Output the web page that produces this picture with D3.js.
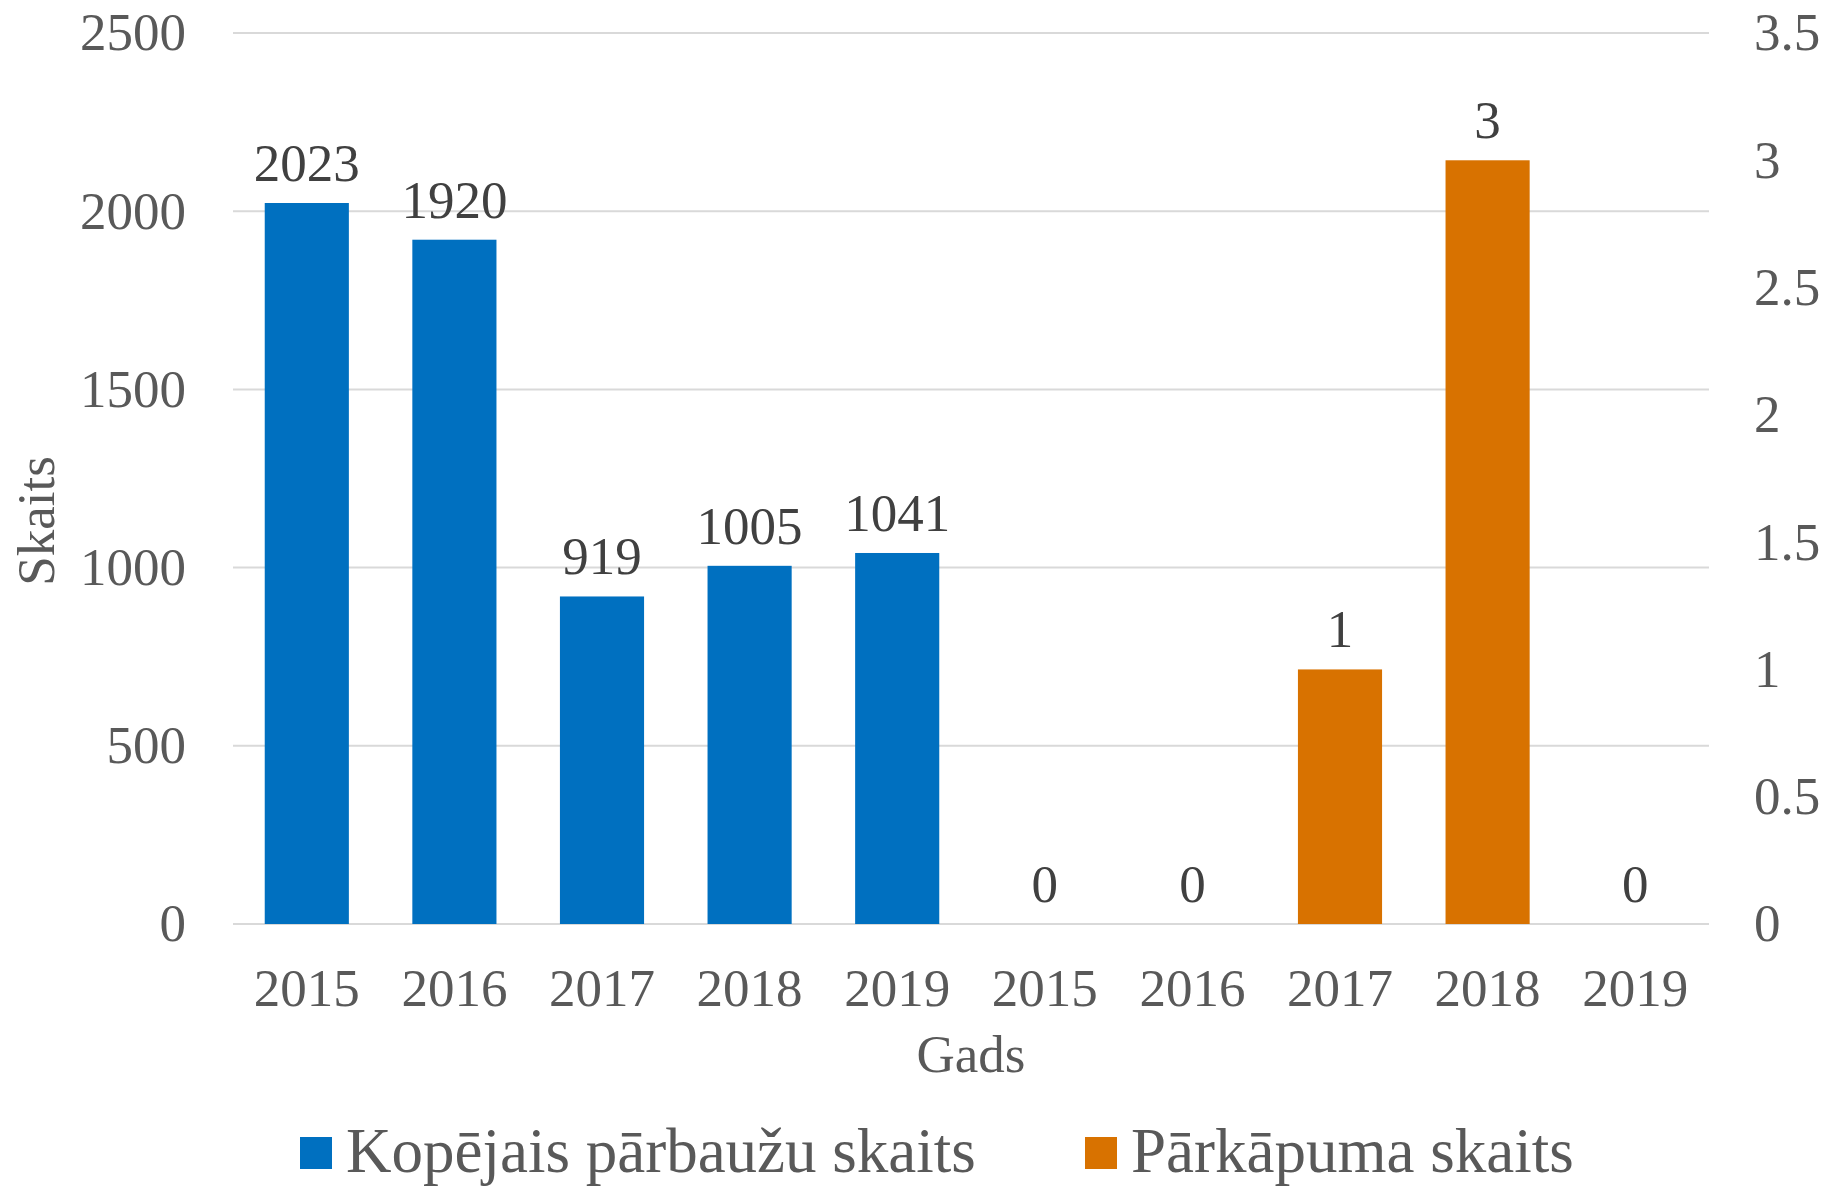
<!DOCTYPE html>
<html>
<head>
<meta charset="utf-8">
<script src="https://cdn.jsdelivr.net/npm/d3@7"></script>
<style>
  html, body { margin: 0; padding: 0; background: #fff; }
  svg { display: block; font-family: "Liberation Serif", "Times New Roman", serif; }
</style>
</head>
<body>
<div id="chart"></div>
<script>
// categories on the x axis (two groups of years)
const years = ["2015", "2016", "2017", "2018", "2019", "2015", "2016", "2017", "2018", "2019"];
// total inspections (primary axis), only first group
const inspections = [2023, 1920, 919, 1005, 1041, null, null, null, null, null];
// violations (secondary axis), only second group
const violations = [null, null, null, null, null, 0, 0, 1, 3, 0];
const leftTicks = [0, 500, 1000, 1500, 2000, 2500];
const rightTicks = [0, 0.5, 1, 1.5, 2, 2.5, 3, 3.5];
const seriesNames = ["Kopējais pārbaužu skaits", "Pārkāpuma skaits"];
const colors = ["#0070C0", "#D87200"];

function drawChart(id) {
  const W = 1823, H = 1188;
  const plot = { left: 233, right: 1709, top: 33, bottom: 924 };

  const svg = d3.select(`#${id}`)
    .append("svg")
    .attr("width", W)
    .attr("height", H)
    .attr("viewBox", [0, 0, W, H]);

  const x = d3.scaleBand()
    .domain(d3.range(years.length))
    .range([plot.left, plot.right])
    .paddingInner(0.43)
    .paddingOuter(0.215);

  const yLeft = d3.scaleLinear().domain([0, 2500]).range([plot.bottom, plot.top]);
  const yRight = d3.scaleLinear().domain([0, 3.5]).range([plot.bottom, plot.top]);

  // gridlines
  svg.append("g")
    .selectAll("line")
    .data(leftTicks)
    .join("line")
    .attr("x1", plot.left)
    .attr("x2", plot.right)
    .attr("y1", (d) => yLeft(d))
    .attr("y2", (d) => yLeft(d))
    .attr("stroke", "#D9D9D9")
    .attr("stroke-width", 2);

  // left axis labels
  const axisL = svg.append("g")
    .attr("transform", `translate(${plot.left - 47},0)`)
    .call(d3.axisLeft(yLeft).tickValues(leftTicks).tickFormat((d) => String(d)).tickSize(0).tickPadding(0));
  axisL.select(".domain").remove();
  axisL.selectAll("text")
    .attr("font-size", 53)
    .attr("font-family", "Liberation Serif, serif")
    .attr("fill", "#595959");

  // right axis labels
  const axisR = svg.append("g")
    .attr("transform", `translate(${plot.right + 45},0)`)
    .call(d3.axisRight(yRight).tickValues(rightTicks).tickFormat((d) => String(d)).tickSize(0).tickPadding(0));
  axisR.select(".domain").remove();
  axisR.selectAll("text")
    .attr("font-size", 53)
    .attr("font-family", "Liberation Serif, serif")
    .attr("fill", "#595959");

  // x axis labels
  const axisX = svg.append("g")
    .attr("transform", `translate(0,${plot.bottom})`)
    .call(d3.axisBottom(x).tickFormat((i) => years[i]).tickSize(0).tickPadding(0));
  axisX.select(".domain").remove();
  axisX.selectAll("text")
    .attr("dy", null)
    .attr("y", 82)
    .attr("font-size", 53)
    .attr("font-family", "Liberation Serif, serif")
    .attr("fill", "#595959");

  // bars + labels for each series
  const series = [
    { values: inspections, y: yLeft, color: colors[0] },
    { values: violations, y: yRight, color: colors[1] },
  ];
  series.forEach((s) => {
    const pts = s.values.map((v, i) => ({ i, v })).filter((d) => d.v !== null);
    svg.append("g")
      .selectAll("rect")
      .data(pts)
      .join("rect")
      .attr("x", (d) => x(d.i))
      .attr("width", x.bandwidth())
      .attr("y", (d) => s.y(d.v))
      .attr("height", (d) => s.y(0) - s.y(d.v))
      .attr("fill", s.color);

    svg.append("g")
      .selectAll("text")
      .data(pts)
      .join("text")
      .attr("x", (d) => x(d.i) + x.bandwidth() / 2)
      .attr("y", (d) => s.y(d.v) - 22)
      .attr("text-anchor", "middle")
      .attr("font-size", 53)
      .attr("fill", "#404040")
      .text((d) => d.v);
  });

  // axis titles
  svg.append("text")
    .attr("x", (plot.left + plot.right) / 2)
    .attr("y", 1072)
    .attr("text-anchor", "middle")
    .attr("font-size", 53)
    .attr("fill", "#595959")
    .text("Gads");

  svg.append("text")
    .attr("transform", "translate(54,521) rotate(-90)")
    .attr("text-anchor", "middle")
    .attr("font-size", 53)
    .attr("fill", "#595959")
    .text("Skaits");

  // legend
  const legendX = [300, 1085];
  const legend = svg.append("g")
    .selectAll("g")
    .data(seriesNames)
    .join("g")
    .attr("transform", (d, i) => `translate(${legendX[i]},0)`);
  legend.append("rect")
    .attr("x", 0)
    .attr("y", 1137)
    .attr("width", 32)
    .attr("height", 32)
    .attr("fill", (d, i) => colors[i]);
  legend.append("text")
    .attr("x", 46)
    .attr("y", 1172)
    .attr("font-size", 63)
    .attr("fill", "#595959")
    .text((d) => d);
}

document.addEventListener("DOMContentLoaded", function () {
  drawChart("chart");
});
</script>
</body>
</html>
